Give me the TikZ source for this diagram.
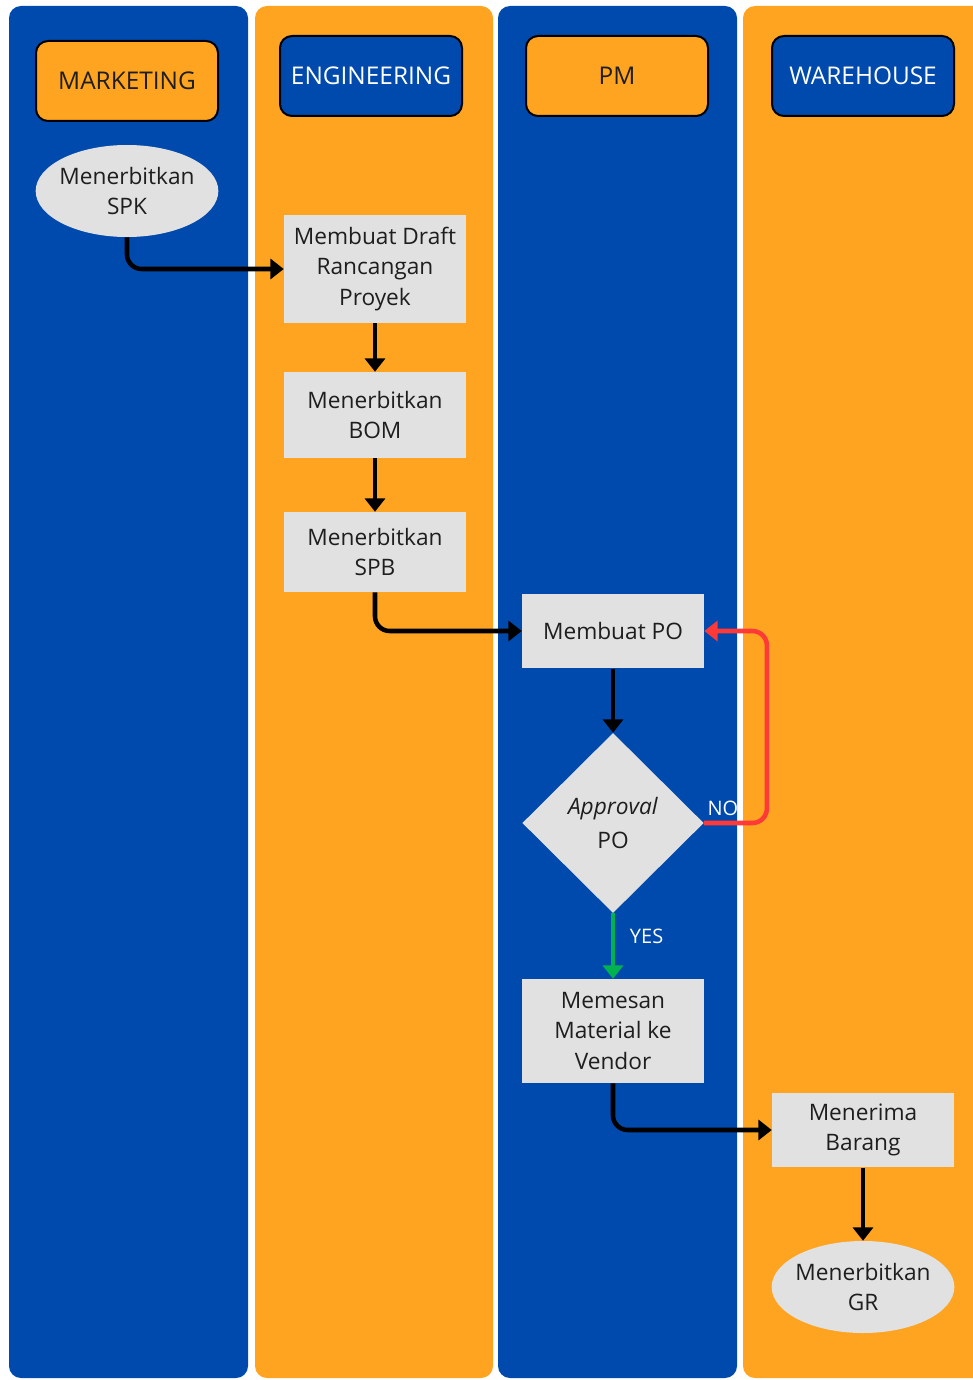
\documentclass[tikz,border=0pt]{standalone}
\usepackage{fontspec}
\setmainfont{Open Sans}
\usepackage{xcolor}
\usepackage{tikz}
\usetikzlibrary{arrows.meta, positioning, shapes.geometric}
\definecolor{laneblue}{RGB}{0,74,173}
\definecolor{laneorange}{RGB}{255,164,32}
\definecolor{boxgray}{RGB}{225,225,225}
\definecolor{textgray}{RGB}{30,30,30}
\definecolor{noRed}{RGB}{255,56,56}
\definecolor{yesGreen}{RGB}{0,178,80}
\tikzstyle{lane}      = [rounded corners=9pt]
\tikzstyle{header}    = [rectangle, rounded corners=9pt, minimum width=136.5pt, minimum height=60pt, text centered, draw=black, line width=1.5pt, font=\fontsize{18.3}{22}\selectfont]
\tikzstyle{process}   = [rectangle, minimum width=136.5pt, text centered, align=center, fill=boxgray, text=textgray, font=\fontsize{17}{23}\selectfont]
\tikzstyle{startstop} = [ellipse, minimum width=137pt, minimum height=69pt, inner sep=-3.5pt, align=center, fill=boxgray, text=textgray, font=\fontsize{17}{23}\selectfont]
\tikzstyle{decision}  = [diamond, minimum width=136pt, minimum height=135pt, inner sep=0pt, align=center, fill=boxgray, text=textgray, font=\fontsize{17}{25}\selectfont]
\tikzstyle{arrow}     = [line width=3.4pt, ->, >={Triangle[length=10pt,width=15pt]}, rounded corners=11pt]
\tikzstyle{answer}    = [text=white, inner sep=1pt, font=\fontsize{15}{17}\selectfont]

\begin{document}
\begin{tikzpicture}[x=0.75pt, y=-0.75pt]
\useasboundingbox (0,0) rectangle (973,1380);
\clip (0,0) rectangle (973,1380);
% swimlanes
\fill [laneblue, lane]   (9,6)   rectangle (248,1378);
\fill [laneorange, lane] (255,6) rectangle (493,1378);
\fill [laneblue, lane]   (498,6) rectangle (737,1378);
\fill [laneorange, lane] (743,6) rectangle (995,1378);

% lane headers
\node (hMarketing) [header, fill=laneorange, text=textgray] at (127,81) {MARKETING};
\node (hEngineering) [header, fill=laneblue, text=white] at (371,76) {ENGINEERING};
\node (hPM) [header, fill=laneorange, text=textgray] at (617,76) {PM};
\node (hWarehouse) [header, fill=laneblue, text=white] at (863,76) {WAREHOUSE};

% steps
\node (spk) [startstop] at (127,191) {Menerbitkan\\SPK};
\node (draft) [process, minimum height=81pt] at (375,269) {Membuat Draft\\Rancangan\\Proyek};
\node (bom) [process, minimum height=64.5pt] at (375,415) {Menerbitkan\\BOM};
\node (spb) [process, minimum height=60pt] at (375,552) {Menerbitkan\\SPB};
\node (po) [process, minimum height=56pt] at (613,631) {Membuat PO};
\node (approval) [decision] at (613,823) {\textit{Approval}\\PO};
\node (vendor) [process, minimum height=78pt] at (613,1031) {Memesan\\Material ke\\Vendor};
\node (terima) [process, minimum height=56pt] at (863,1130) {Menerima\\Barang};
\node (gr) [startstop] at (863,1287) {Menerbitkan\\GR};

% connectors
\draw [arrow] (spk.south) |- (draft.west);
\draw [arrow] (draft) -- (bom);
\draw [arrow] (bom) -- (spb);
\draw [arrow] (spb.south) |- (po.west);
\draw [arrow] (po) -- (approval);
\draw [arrow, noRed] (approval.east) node[answer, above right, yshift=3pt] {NO} -- ++(63,0) |- (po.east);
\draw [arrow, yesGreen] (approval.south) -- (vendor.north) node[answer, pos=0.35, right=10pt] {YES};
\draw [arrow] (vendor.south) |- (terima.west);
\draw [arrow] (terima) -- (gr);
\end{tikzpicture}
\end{document}
